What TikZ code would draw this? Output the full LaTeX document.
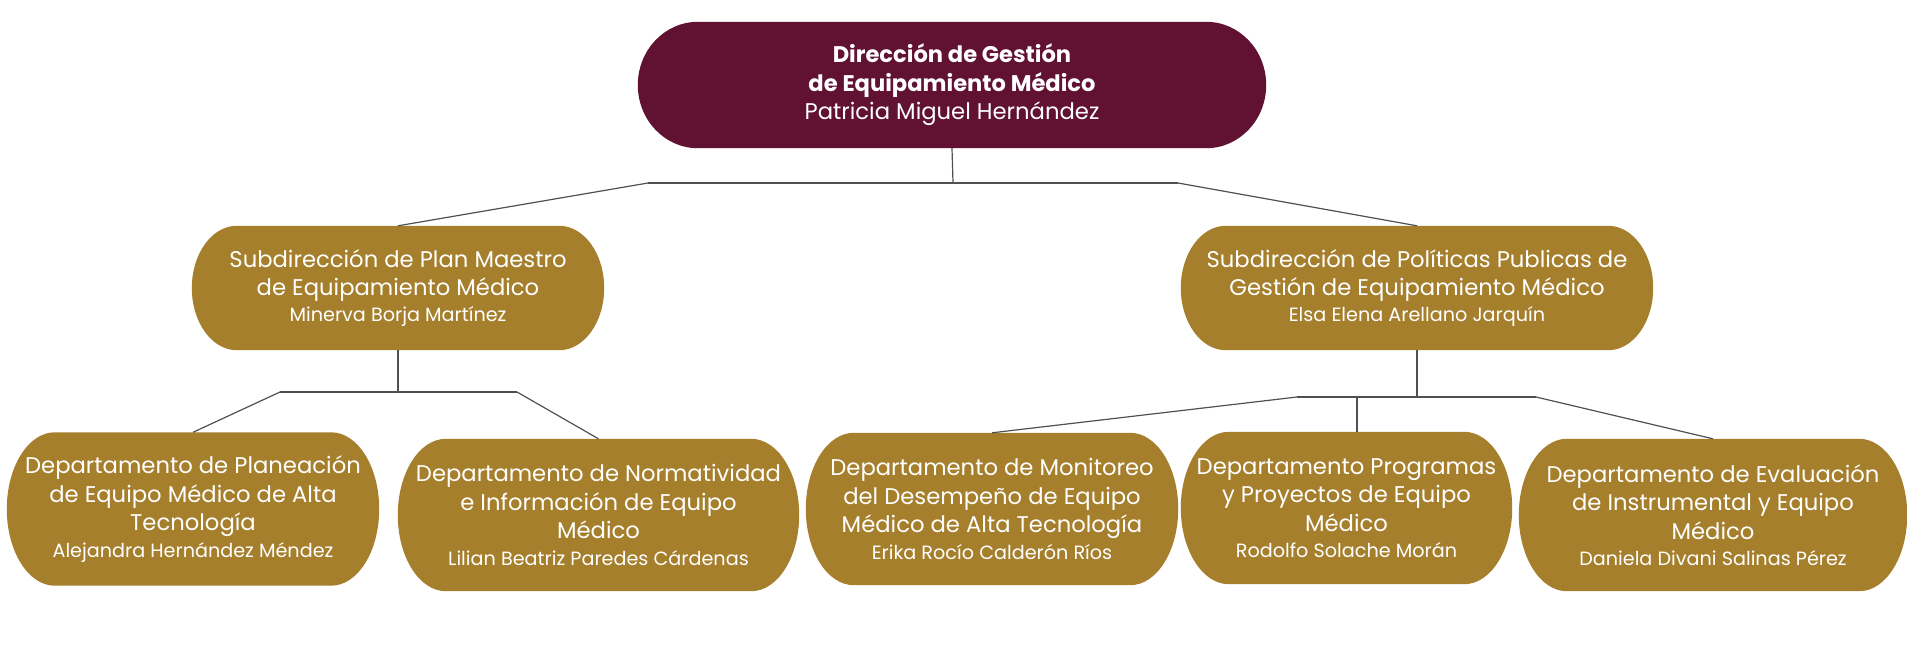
\documentclass[tikz,border=0pt]{standalone}
\usepackage{fontspec}
\setmainfont{Poppins}
\usetikzlibrary{calc,backgrounds}
\definecolor{guinda}{HTML}{611232}
\definecolor{dorado}{HTML}{A57F2C}
\definecolor{linea}{HTML}{505050}
\newcommand\mainsz{\fontsize{22.7}{28.4}\selectfont}
\newcommand\namesz{\fontsize{19.2}{26}\selectfont}
\newcommand\boldsz{\fontsize{22.6}{28.4}\selectfont\bfseries}
\begin{document}
\begin{tikzpicture}[x=1pt,y=-1pt,
  box/.style={rectangle, inner sep=0pt, text=white, align=center, font=\mainsz},
  conn/.style={draw=linea, line width=1.2pt}]
\useasboundingbox (0,0) rectangle (1907,646);

\node[box, minimum width=628pt, minimum height=126pt] (top) at (952,85)
  {{\boldsz Dirección de Gestión}\\{\boldsz de Equipamiento Médico}\\Patricia Miguel Hernández};

\node[box, minimum width=412pt, minimum height=124pt] (s1) at (398,288)
  {Subdirección de Plan Maestro\\de Equipamiento Médico\\[-2pt]{\namesz Minerva Borja Martínez}};
\node[box, minimum width=472pt, minimum height=124pt] (s2) at (1417,288)
  {Subdirección de Políticas Publicas de\\Gestión de Equipamiento Médico\\[-2pt]{\namesz Elsa Elena Arellano Jarquín}};

\node[box, minimum width=372pt, minimum height=153pt] (d1) at (193,509)
  {Departamento de Planeación\\de Equipo Médico de Alta\\Tecnología\\[-2pt]{\namesz Alejandra Hernández Méndez}};
\node[box, minimum width=401pt, minimum height=152pt] (d2) at (598.5,515)
  {Departamento de Normatividad\\e Información de Equipo\\Médico\\[-2pt]{\namesz Lilian Beatriz Paredes Cárdenas}};
\node[box, minimum width=372pt, minimum height=152pt] (d3) at (992,509)
  {Departamento de Monitoreo\\del Desempeño de Equipo\\Médico de Alta Tecnología\\[-2pt]{\namesz Erika Rocío Calderón Ríos}};
\node[box, minimum width=331pt, minimum height=152pt] (d4) at (1346.5,508)
  {Departamento Programas\\y Proyectos de Equipo\\Médico\\[-2pt]{\namesz Rodolfo Solache Morán}};
\node[box, minimum width=388pt, minimum height=152pt] (d5) at (1713,515)
  {Departamento de Evaluación\\de Instrumental y Equipo\\Médico\\[-2pt]{\namesz Daniela Divani Salinas Pérez}};

\begin{scope}[on background layer]
\foreach \nm/\cc/\rr in {top/guinda/60pt, s1/dorado/45pt, s2/dorado/45pt, d1/dorado/48pt, d2/dorado/48pt, d3/dorado/48pt, d4/dorado/48pt, d5/dorado/48pt}{
  \fill[\cc] let \p1=(\nm.north west), \p2=(\nm.south east), \n1={(\y1-\y2)/2} in
    (\x1+\rr,\y1) -- (\x2-\rr,\y1)
    arc[start angle=90, end angle=-90, x radius=\rr, y radius=\n1]
    -- (\x1+\rr,\y2)
    arc[start angle=270, end angle=90, x radius=\rr, y radius=\n1] -- cycle;
}
\end{scope}

% connectors
\coordinate (j0) at (953,183);
\coordinate (jl) at (648,183);
\coordinate (jr) at (1178,183);
\draw[conn] (top.south) -- (j0);
\draw[conn] (jl) -- (jr);
\draw[conn] (jl) -- (s1.north);
\draw[conn] (jr) -- (s2.north);

\coordinate (k0) at (398,392);
\coordinate (kl) at (280,392);
\coordinate (kr) at (517,392);
\draw[conn] (s1.south) -- (k0);
\draw[conn] (kl) -- (kr);
\draw[conn] (kl) -- (d1.north);
\draw[conn] (kr) -- (d2.north);

\coordinate (m0) at (1417,397);
\coordinate (ml) at (1297,397);
\coordinate (mm) at (1357,397);
\coordinate (mr) at (1536,397);
\draw[conn] (s2.south) -- (m0);
\draw[conn] (ml) -- (mr);
\draw[conn] (ml) -- (d3.north);
\draw[conn] (mm) -- (mm |- d4.north);
\draw[conn] (mr) -- (d5.north);
\end{tikzpicture}
\end{document}
